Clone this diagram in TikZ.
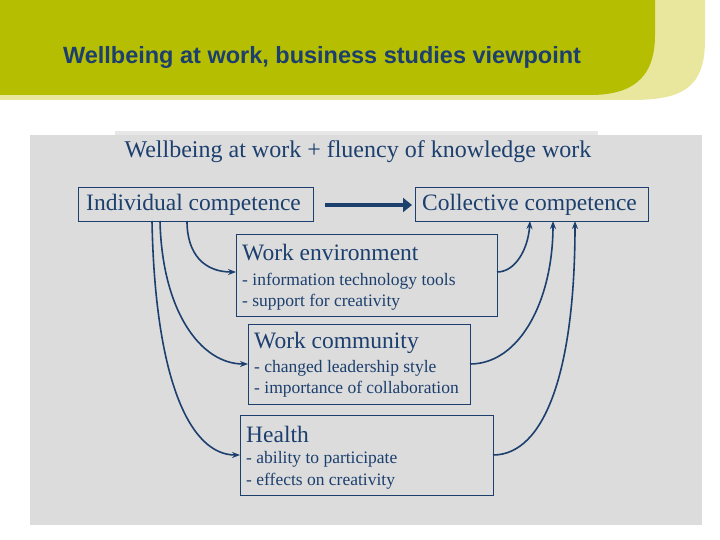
\documentclass[tikz,border=0pt]{standalone}
\usepackage{fontspec}
\setmainfont{Liberation Serif}
\newfontfamily\hdfont{Liberation Sans}
\usetikzlibrary{arrows.meta}
\definecolor{olive}{HTML}{B5BE00}
\definecolor{pale}{HTML}{E9E79E}
\definecolor{panel}{HTML}{DCDCDC}
\definecolor{navy}{HTML}{1C3F6E}
\begin{document}
\begin{tikzpicture}[x=1pt,y=-1pt,
  box/.style={draw=navy,line width=0.9pt,fill=panel},
  head/.style={text=navy,font=\fontsize{23.5}{26}\selectfont,anchor=west,inner sep=0},
  sub/.style={text=navy,font=\fontsize{17.5}{20}\selectfont,anchor=west,inner sep=0},
  conn/.style={navy,line width=1.6pt,-{Stealth[length=8pt,width=6pt]}}]
\useasboundingbox (0,0) rectangle (720,540);
\fill[white] (0,0) rectangle (720,540);
% header
\fill[pale] (0,0) -- (705,0) -- (705,40) .. controls (705,90) and (680,100) .. (630,100) -- (0,100) -- cycle;
\fill[olive] (0,0) -- (655,0) -- (655,35) .. controls (655,80) and (630,95) .. (590,95) -- (0,95) -- cycle;
\node[text=navy,font=\hdfont\bfseries\fontsize{23.5}{26}\selectfont] (title) at (322,57) {Wellbeing at work, business studies viewpoint};
% panel
\fill[panel] (30,135) rectangle (702,525);
\fill[panel!70!white] (115,131) rectangle (598,135);
\node[text=navy,font=\fontsize{24}{27}\selectfont] (sub) at (358,152) {Wellbeing at work + fluency of knowledge work};
% boxes
\draw[box] (78,187) rectangle (313,221);
\node[head] (ind) at (86,205) {Individual competence};
\draw[box] (415,187) rectangle (648,221);
\node[head] (col) at (422,205) {Collective competence};
\draw[navy,line width=4pt,-{Triangle[length=9pt,width=14pt]}] (325,205) -- (412,205);
\draw[box] (236,234) rectangle (497,316);
\node[head] at (242,253) {Work environment};
\node[sub] at (242,281) {- information technology tools};
\node[sub] at (242,302) {- support for creativity};
\draw[box] (248,324) rectangle (470,404);
\node[head] at (254,343) {Work community};
\node[sub] at (254,368) {- changed leadership style};
\node[sub] at (254,389) {- importance of collaboration};
\draw[box] (240,415) rectangle (493,495);
\node[head] at (246,434) {Health};
\node[sub] at (246,459) {- ability to participate};
\node[sub] at (246,481) {- effects on creativity};
% coordinates
\coordinate (l1) at (187,221); \coordinate (l2) at (160,221); \coordinate (l3) at (152,221);
\coordinate (e1) at (236,272); \coordinate (e2) at (248,364); \coordinate (e3) at (240,455);
\coordinate (r1) at (497,272); \coordinate (r2) at (470,364); \coordinate (r3) at (493,455);
\coordinate (c1) at (530,221); \coordinate (c2) at (553,221); \coordinate (c3) at (575,221);
\draw[conn] (l1) .. controls (187,255) and (205,272) .. (e1);
\draw[conn] (l2) .. controls (162,310) and (200,364) .. (e2);
\draw[conn] (l3) .. controls (155,380) and (190,455) .. (e3);
\draw[conn] (r1) .. controls (515,272) and (528,250) .. (c1);
\draw[conn] (r2) .. controls (520,364) and (553,300) .. (c2);
\draw[conn] (r3) .. controls (545,455) and (575,370) .. (c3);
\end{tikzpicture}
\end{document}
